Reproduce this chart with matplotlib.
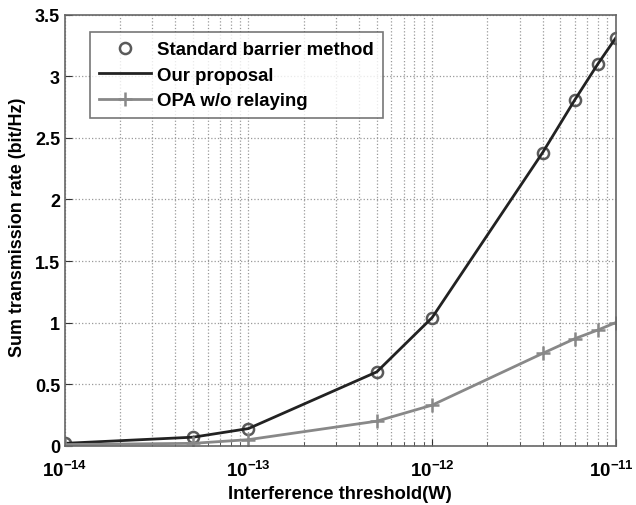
import numpy as np
import matplotlib
matplotlib.use("Agg")
import matplotlib.pyplot as plt
import matplotlib.transforms as mtransforms

# Data
threshold = [1e-14, 5e-14, 1e-13, 5e-13, 1e-12, 4e-12, 6e-12, 8e-12, 1e-11]
barrier_rate = [0.02, 0.07, 0.14, 0.60, 1.04, 2.38, 2.81, 3.10, 3.31]
proposal_rate = [0.02, 0.07, 0.14, 0.60, 1.04, 2.38, 2.81, 3.10, 3.31]
opa_rate = [0.01, 0.02, 0.05, 0.20, 0.33, 0.75, 0.87, 0.94, 1.00]
xtick_vals = [1e-14, 1e-13, 1e-12, 1e-11]
xtick_labels = [r'$\mathbf{10^{-14}}$', r'$\mathbf{10^{-13}}$',
                r'$\mathbf{10^{-12}}$', r'$\mathbf{10^{-11}}$']

plt.rcParams['font.family'] = ['Liberation Sans', 'DejaVu Sans']
plt.rcParams['font.weight'] = 'bold'
plt.rcParams['mathtext.fontset'] = 'custom'
plt.rcParams['mathtext.bf'] = 'Liberation Sans:bold'
plt.rcParams['mathtext.rm'] = 'Liberation Sans'

fig = plt.figure(figsize=(6.36, 5.06), dpi=100)
ax = fig.add_axes([0.102, 0.117, 0.866, 0.852])

ax.plot(threshold, barrier_rate, 'o', markersize=8, markerfacecolor='none',
        markeredgecolor='#5a5a5a', markeredgewidth=1.8, label='Standard barrier method')
ax.plot(threshold, proposal_rate, '-', color='#222222', linewidth=2, label='Our proposal')
ax.plot(threshold, opa_rate, '-', color='#888888', linewidth=2, marker='+',
        markersize=10, markeredgewidth=1.8, label='OPA w/o relaying')

ax.set_xscale('log')
ax.set_xlim(1e-14, 1e-11)
ax.set_ylim(0, 3.5)
ax.set_xticks(xtick_vals)
ax.set_xticklabels(xtick_labels, fontsize=13.5)
ax.set_yticks(np.arange(0, 3.51, 0.5))
ax.set_yticklabels(['0', '0.5', '1', '1.5', '2', '2.5', '3', '3.5'], fontsize=13)

ax.grid(True, which='major', linestyle=':', color='#999999', linewidth=0.9)
ax.grid(True, which='minor', axis='x', linestyle=':', color='#999999', linewidth=0.9)

ax.tick_params(which='both', direction='in', colors='#333333')
ax.tick_params(which='major', length=5)
ax.tick_params(which='minor', length=3)
ax.tick_params(axis='x', which='major', pad=10)
for lab in ax.get_xticklabels() + ax.get_yticklabels():
    lab.set_fontweight('bold')
    lab.set_color('black')
# nudge the last x label so it stays inside the canvas
last = ax.get_xticklabels()[-1]
last.set_transform(last.get_transform() +
                   mtransforms.ScaledTranslation(-4 / 100, 0, fig.dpi_scale_trans))
for s in ax.spines.values():
    s.set_color('#666666')
    s.set_linewidth(1.2)

ax.set_xlabel('Interference threshold(W)', fontsize=13.2, fontweight='bold', labelpad=4)
ax.set_ylabel('Sum transmission rate (bit/Hz)', fontsize=12.9, fontweight='bold')
ax.yaxis.set_label_coords(-0.07, 0.51)

leg = ax.legend(loc='upper left', bbox_to_anchor=(0.045, 0.96), fontsize=13.4,
                frameon=True, fancybox=False, edgecolor='#555555',
                handlelength=2.8, handletextpad=0.3, borderpad=0.5,
                labelspacing=0.45, borderaxespad=0)
leg.get_frame().set_linewidth(1.2)

fig.savefig('out.png', dpi=100)
